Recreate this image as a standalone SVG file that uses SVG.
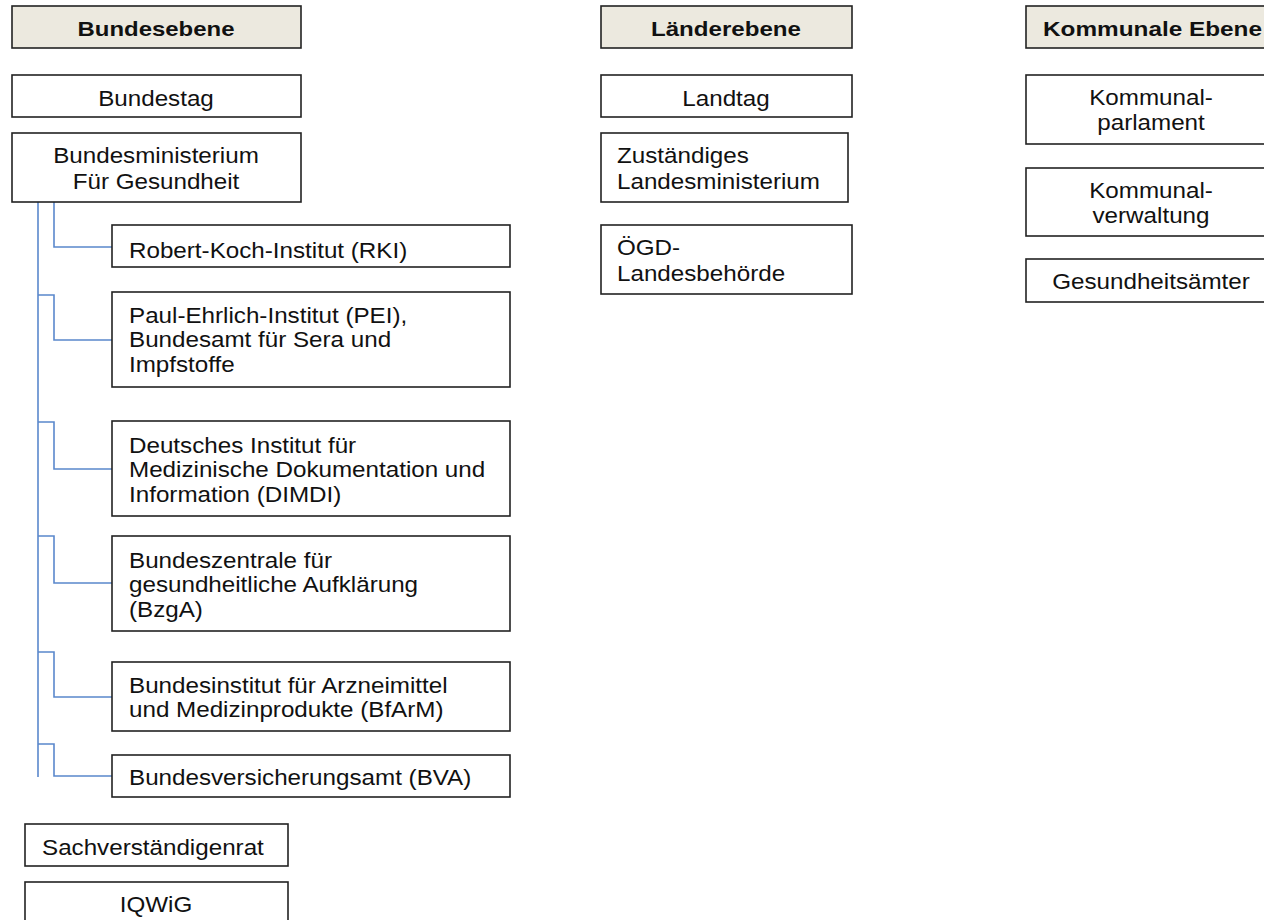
<svg xmlns="http://www.w3.org/2000/svg" width="1264" height="920" viewBox="0 0 1264 920">
<style>
.box{fill:#fff;stroke:#222;stroke-width:1.6}
.hdr{fill:#ECE9DF;stroke:#222;stroke-width:1.6}
text{font-family:"Liberation Sans",Arial,sans-serif;font-size:22px;fill:#111}
.b{font-weight:bold;font-size:21px}
.c{text-anchor:middle}
.con{fill:none;stroke:#5A88CC;stroke-width:1.6}
</style>
<rect width="1264" height="920" fill="#fff"/>
<g id="connectors">
<path class="con" d="M38 202V777"/>
<path class="con" d="M54 202V247H112"/>
<path class="con" d="M38 295H54V340H112"/>
<path class="con" d="M38 422H54V469H112"/>
<path class="con" d="M38 536H54V583H112"/>
<path class="con" d="M38 652H54V697H112"/>
<path class="con" d="M38 744H54V776H112"/>
</g>
<g id="h-bund"><rect class="hdr" x="12" y="6" width="289" height="42"/><text class="b c" x="156" y="36" textLength="157" lengthAdjust="spacingAndGlyphs">Bundesebene</text></g>
<g id="bundestag"><rect class="box" x="12" y="75" width="289" height="42"/><text class="c" transform="translate(156 106) scale(1.1 1)">Bundestag</text></g>
<g id="bmg"><rect class="box" x="12" y="133" width="289" height="69"/><text class="c" transform="translate(156 163) scale(1.1 1)">Bundesministerium</text><text class="c" transform="translate(156 189) scale(1.1 1)">Für Gesundheit</text></g>
<g id="rki"><rect class="box" x="112" y="225" width="398" height="42"/><text transform="translate(129 258) scale(1.1 1)">Robert-Koch-Institut (RKI)</text></g>
<g id="pei"><rect class="box" x="112" y="292" width="398" height="95"/><text transform="translate(129 323) scale(1.1 1)">Paul-Ehrlich-Institut (PEI),</text><text transform="translate(129 347) scale(1.1 1)">Bundesamt für Sera und</text><text transform="translate(129 372) scale(1.1 1)">Impfstoffe</text></g>
<g id="dimdi"><rect class="box" x="112" y="421" width="398" height="95"/><text transform="translate(129 453) scale(1.1 1)">Deutsches Institut für</text><text transform="translate(129 477) scale(1.1 1)">Medizinische Dokumentation und</text><text transform="translate(129 502) scale(1.1 1)">Information (DIMDI)</text></g>
<g id="bzga"><rect class="box" x="112" y="536" width="398" height="95"/><text transform="translate(129 568) scale(1.1 1)">Bundeszentrale für</text><text transform="translate(129 592) scale(1.1 1)">gesundheitliche Aufklärung</text><text transform="translate(129 617) scale(1.1 1)">(BzgA)</text></g>
<g id="bfarm"><rect class="box" x="112" y="662" width="398" height="69"/><text transform="translate(129 693) scale(1.1 1)">Bundesinstitut für Arzneimittel</text><text transform="translate(129 717) scale(1.1 1)">und Medizinprodukte (BfArM)</text></g>
<g id="bva"><rect class="box" x="112" y="755" width="398" height="42"/><text transform="translate(129 785) scale(1.1 1)">Bundesversicherungsamt (BVA)</text></g>
<g id="svr"><rect class="box" x="25" y="824" width="263" height="42"/><text transform="translate(42 855) scale(1.1 1)">Sachverständigenrat</text></g>
<g id="iqwig"><rect class="box" x="25" y="882" width="263" height="45"/><text class="c" transform="translate(156 912) scale(1.1 1)">IQWiG</text></g>
<g id="h-land"><rect class="hdr" x="601" y="6" width="251" height="42"/><text class="b c" x="726" y="36" textLength="150" lengthAdjust="spacingAndGlyphs">Länderebene</text></g>
<g id="landtag"><rect class="box" x="601" y="75" width="251" height="42"/><text class="c" transform="translate(726 106) scale(1.1 1)">Landtag</text></g>
<g id="lmin"><rect class="box" x="601" y="133" width="247" height="69"/><text transform="translate(617 163) scale(1.1 1)">Zuständiges</text><text transform="translate(617 189) scale(1.1 1)">Landesministerium</text></g>
<g id="oegd"><rect class="box" x="601" y="225" width="251" height="69"/><text transform="translate(617 255) scale(1.1 1)">ÖGD-</text><text transform="translate(617 281) scale(1.1 1)">Landesbehörde</text></g>
<g id="h-komm"><rect class="hdr" x="1026" y="6" width="260" height="42"/><text class="b" x="1043" y="36" textLength="219" lengthAdjust="spacingAndGlyphs">Kommunale Ebene</text></g>
<g id="kparl"><rect class="box" x="1026" y="75" width="260" height="69"/><text class="c" transform="translate(1151 105) scale(1.1 1)">Kommunal-</text><text class="c" transform="translate(1151 130) scale(1.1 1)">parlament</text></g>
<g id="kverw"><rect class="box" x="1026" y="168" width="260" height="68"/><text class="c" transform="translate(1151 198) scale(1.1 1)">Kommunal-</text><text class="c" transform="translate(1151 223) scale(1.1 1)">verwaltung</text></g>
<g id="ga"><rect class="box" x="1026" y="259" width="260" height="43"/><text class="c" transform="translate(1151 289) scale(1.1 1)">Gesundheitsämter</text></g>
</svg>
